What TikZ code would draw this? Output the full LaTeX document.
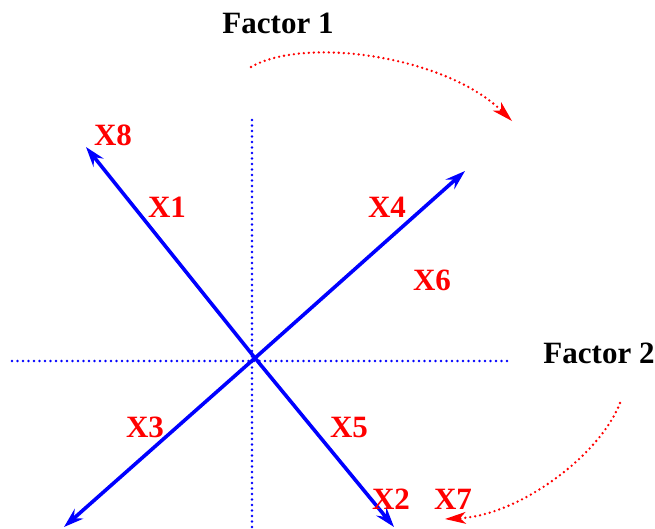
\documentclass[tikz,border=0pt]{standalone}
\usepackage{fontspec}
\setmainfont{Liberation Serif}
\usetikzlibrary{arrows.meta}
\begin{document}
\begin{tikzpicture}[x=1pt,y=-1pt,
  axisline/.style={blue, line width=2.6pt, line cap=round, dash pattern=on 0pt off 5.5pt},
  vecline/.style={blue, line width=3.6pt, -{Stealth[length=20pt,width=13pt,inset=7pt]}},
  rotline/.style={red, line width=2.6pt, line cap=round, dash pattern=on 0pt off 5pt, -{Stealth[length=21pt,width=12pt,inset=6pt,line cap=butt,line width=0pt]}},
  lab/.style={anchor=base, inner sep=0pt, font=\fontsize{31}{31}\selectfont\bfseries},
  vlab/.style={lab, text=red}]
\useasboundingbox (0,0) rectangle (655,528);
% axes
\coordinate (vtop) at (252,120);
\coordinate (vbot) at (252,528);
\coordinate (hl) at (12,361);
\coordinate (hr) at (512,361);
\draw[axisline] (vtop) -- (vbot);
\draw[axisline] (hl) -- (hr);
% vectors
\coordinate (o) at (255,358);
\coordinate (ul) at (86,147);
\coordinate (ur) at (465,171);
\coordinate (ll) at (64,527);
\coordinate (lr) at (394,527);
\draw[vecline] (o) -- (ul);
\draw[vecline] (o) -- (ur);
\draw[vecline] (o) -- (ll);
\draw[vecline] (o) -- (lr);
% rotation arrows
\coordinate (a1) at (251,67);
\coordinate (a1e) at (512,121);
\draw[rotline] (a1) .. controls (305,36) and (445,56) .. (a1e);
\coordinate (a2) at (620,403);
\coordinate (a2e) at (445,519);
\draw[rotline] (a2) .. controls (600,455) and (520,515) .. (a2e);
% labels
\node[lab] (f1) at (278,33) {Factor 1};
\node[lab] (f2) at (599,363) {Factor 2};
\node[vlab] (x8) at (113,145) {X8};
\node[vlab] (x1) at (167,217) {X1};
\node[vlab] (x4) at (387,217) {X4};
\node[vlab] (x6) at (432,290) {X6};
\node[vlab] (x3) at (145,437) {X3};
\node[vlab] (x5) at (349,437) {X5};
\node[vlab] (x2) at (391,509) {X2};
\node[vlab] (x7) at (453,509) {X7};
\end{tikzpicture}
\end{document}
